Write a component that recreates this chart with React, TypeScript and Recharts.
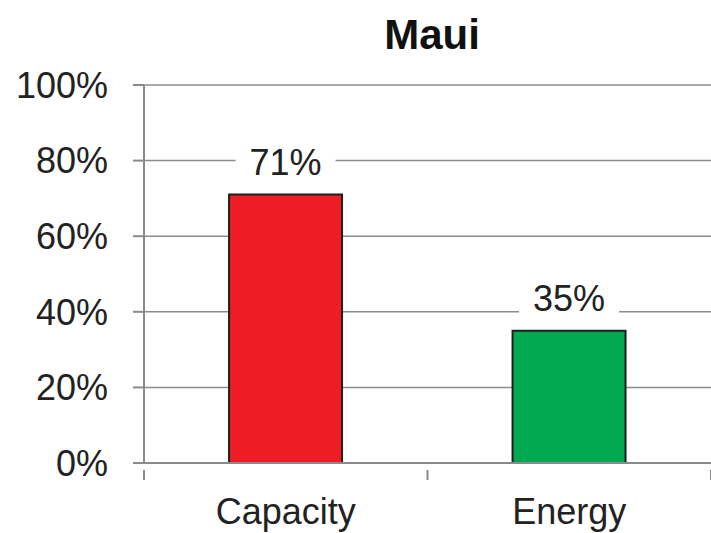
import { BarChart, Bar, XAxis, YAxis, CartesianGrid, Cell, LabelList } from 'recharts';

const categories = ['Capacity', 'Energy'];
const shares = [0.71, 0.35];
const barColors = ['#ee1c25', '#00a84f'];
const yTicks = [0, 0.2, 0.4, 0.6, 0.8, 1];

const data = categories.map((name, i) => ({ name, share: shares[i], color: barColors[i] }));

const W = 711;
const H = 533;
const AXIS_X = 144;
const HALF_BAND = (W - AXIS_X) / categories.length / 2;
const font = 'Liberation Sans, Arial, sans-serif';

const pct = (v: number) => `${Math.round(v * 100)}%`;

const CategoryTick = (props: any) => {
  const { x, y, payload } = props;
  return (
    <g>
      <line x1={x + HALF_BAND} y1={y - 1} x2={x + HALF_BAND} y2={y + 9} stroke="#8a8a8a" strokeWidth={2} />
      {payload.index === 0 && (
        <line x1={x - HALF_BAND} y1={y - 1} x2={x - HALF_BAND} y2={y + 9} stroke="#8a8a8a" strokeWidth={2} />
      )}
      <text x={x} y={y + 53} textAnchor="middle" fontSize={36} fontFamily={font} fill="#222">
        {payload.value}
      </text>
    </g>
  );
};

const ValueLabel = (props: any) => {
  const { x, y, width, value } = props;
  const cx = x + width / 2;
  return (
    <g>
      <rect x={cx - 50} y={y - 50} width={100} height={42} fill="#fff" />
      <text x={cx} y={y - 20} textAnchor="middle" fontSize={36} fontFamily={font} fill="#222">
        {pct(value)}
      </text>
    </g>
  );
};

export default function App() {
  return (
    <div style={{ position: 'absolute', left: 0, top: 0, width: W, height: H, background: '#fff' }}>
      <div
        style={{
          position: 'absolute',
          left: 332,
          top: 12,
          width: 200,
          textAlign: 'center',
          fontFamily: font,
          fontWeight: 'bold',
          fontSize: 42,
          color: '#111',
          lineHeight: '46px',
        }}
      >
        Maui
      </div>
      <BarChart
        width={W}
        height={H}
        data={data}
        margin={{ top: 85, right: 0, bottom: 0, left: 0 }}
        barCategoryGap="30%"
      >
        <CartesianGrid vertical={false} stroke="#8c8c8c" strokeWidth={1.5} />
        <YAxis
          width={AXIS_X}
          domain={[0, 1]}
          ticks={yTicks}
          tickFormatter={pct}
          tickSize={11}
          tickMargin={25}
          axisLine={{ stroke: '#8a8a8a', strokeWidth: 2 }}
          tickLine={{ stroke: '#8a8a8a', strokeWidth: 2 }}
          tick={{ fontSize: 36, fontFamily: font, fill: '#222' }}
        />
        <XAxis
          dataKey="name"
          height={70}
          axisLine={{ stroke: '#8a8a8a', strokeWidth: 2 }}
          tickLine={false}
          tick={<CategoryTick />}
          interval={0}
        />
        <Bar dataKey="share" stroke="#1f1f1f" strokeWidth={2} isAnimationActive={false}>
          {data.map((d) => (
            <Cell key={d.name} fill={d.color} />
          ))}
          <LabelList dataKey="share" content={<ValueLabel />} />
        </Bar>
      </BarChart>
    </div>
  );
}
